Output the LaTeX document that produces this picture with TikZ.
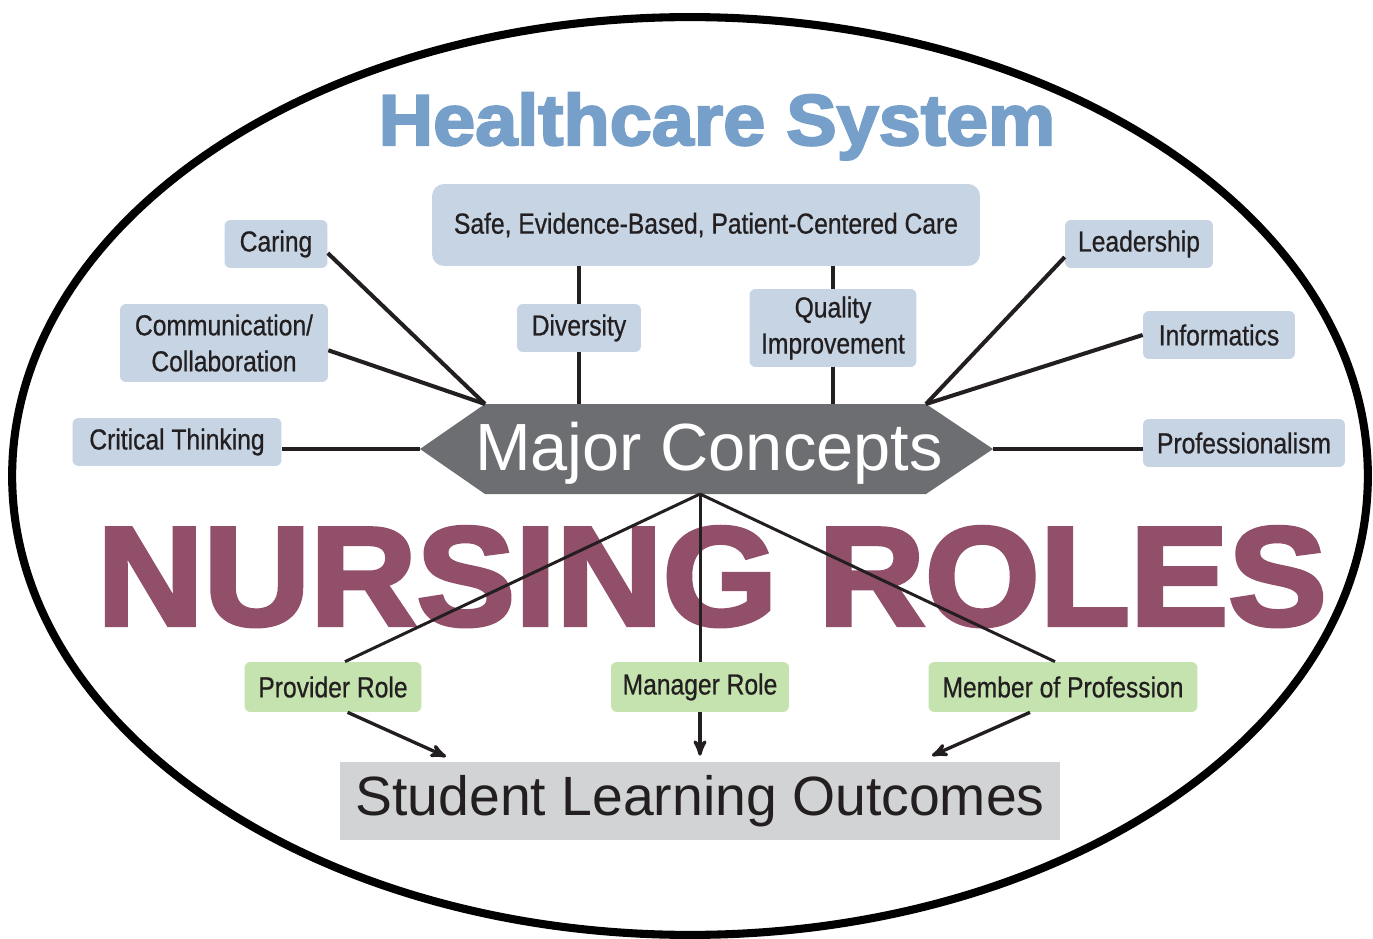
\documentclass[tikz,border=0pt]{standalone}
\usepackage{fontspec}
\setmainfont{Liberation Sans}
\newfontfamily\condfont{Liberation Sans}[FakeStretch=0.85,FakeBold=0.6]
\newfontfamily\heavyfont{Liberation Sans}[FakeStretch=1.05,FakeBold=3]
\usetikzlibrary{arrows,calc}

\definecolor{conceptblue}{HTML}{C6D4E4}
\definecolor{rolegreen}{HTML}{C4E3AE}
\definecolor{outcomegray}{HTML}{D1D3D4}
\definecolor{majorgray}{HTML}{6D6E71}
\definecolor{titleblue}{HTML}{769FC9}
\definecolor{rolesplum}{HTML}{924F6A}
\definecolor{inkdark}{HTML}{231F20}

\tikzset{
  concept/.style={fill=conceptblue, rounded corners=0.12cm, text=inkdark, inner sep=0pt,
    align=center, minimum height=0.96cm, font=\condfont\fontsize{16.5}{20.5}\selectfont},
  role/.style={concept, fill=rolegreen, minimum height=1cm},
  link/.style={draw=inkdark, line width=2.3pt},
  thinlink/.style={draw=inkdark, line width=1.7pt},
  arrowlink/.style={draw=inkdark, line width=1.9pt, -stealth'},
}

\begin{document}
\begin{tikzpicture}[x=0.02cm, y=-0.02cm]
  \useasboundingbox (0,0) rectangle (1373,939);
  \fill[white] (0,0) rectangle (1373,939);

  % outer ring
  \draw[line width=4.6pt, black] (690,476) ellipse [x radius=13.56cm, y radius=9.18cm];
  \node[font=\heavyfont\bfseries\fontsize{41}{41}\selectfont, text=titleblue, anchor=base] (title) at (717,145) {Healthcare System};

  % concept boxes
  \node[concept, minimum width=10.96cm, minimum height=1.64cm, rounded corners=0.24cm] (safe) at (706,225) {Safe, Evidence-Based, Patient-Centered Care};
  \node[concept, minimum width=2.06cm] (caring) at (276,244) {Caring};
  \node[concept, minimum width=4.16cm, minimum height=1.56cm] (comm) at (224,343) {Communication/\\Collaboration};
  \node[concept, minimum width=4.18cm] (critical) at (177,442) {Critical Thinking};
  \node[concept, minimum width=2.48cm] (diversity) at (579,328) {Diversity};
  \node[concept, minimum width=3.34cm, minimum height=1.56cm] (quality) at (833,328) {Quality\\Improvement};
  \node[concept, minimum width=2.96cm] (leader) at (1139,244) {Leadership};
  \node[concept, minimum width=3.04cm] (inform) at (1219,335) {Informatics};
  \node[concept, minimum width=4.04cm] (prof) at (1244,443) {Professionalism};

  % major concepts
  \coordinate (mcW) at (420,449);
  \coordinate (mcNW) at (485,404);
  \coordinate (mcNE) at (926,404);
  \coordinate (mcE) at (993,449);
  \coordinate (mcSE) at (926,494);
  \coordinate (mcSW) at (485,494);
  \coordinate (mcS) at (700,494);
  \fill[majorgray] (mcW) -- (mcNW) -- (mcNE) -- (mcE) -- (mcSE) -- (mcSW) -- cycle;
  \node[text=white, font=\fontsize{38}{38}\selectfont, anchor=base] (major) at (709,470) {Major Concepts};

  % roles
  \node[font=\heavyfont\bfseries\fontsize{80}{80}\selectfont, text=rolesplum, anchor=base] (roles) at (712,625) {NURSING ROLES};
  \node[role, minimum width=3.54cm] (provider) at (333,687) {Provider Role};
  \node[role, minimum width=3.56cm] (manager) at (700,687) {Manager Role};
  \node[role, minimum width=5.38cm] (member) at (1063,687) {Member of Profession};
  \node[fill=outcomegray, minimum width=14.4cm, minimum height=1.56cm, inner sep=0pt, text=inkdark,
    font=\fontsize{31.5}{31.5}\selectfont] (outcomes) at (700,801) {Student Learning Outcomes};

  % left side
  \draw[link] (caring.-10) -- (mcNW);
  \draw[link] (comm.-4) -- (mcNW);
  \draw[link] (mcW) -- (mcW -| critical.east);

  % top
  \draw[link] (diversity.north) -- (diversity.north |- safe.south);
  \draw[link] (diversity.south) -- (diversity.south |- mcNW);
  \draw[link] (quality.north) -- (quality.north |- safe.south);
  \draw[link] (quality.south) -- (quality.south |- mcNE);

  % right side
  \draw[link] (leader.190) -- (mcNE);
  \draw[link] (inform.west) -- (mcNE);
  \draw[link] (mcE) -- (mcE -| prof.west);

  % lower side
  \draw[thinlink] (mcS) -- ($(provider.north)+(12,0)$);
  \draw[thinlink] (mcS) -- (manager.north);
  \draw[thinlink] (mcS) -- ($(member.north)+(-8,0)$);
  \draw[arrowlink] (provider.-60) -- ($(outcomes.north)+(-254,-5)$);
  \draw[arrowlink] (manager.south) -- ($(outcomes.north)+(0,-6)$);
  \draw[arrowlink] ($(member.south)+(-33,0)$) -- ($(outcomes.north)+(232,-6)$);
\end{tikzpicture}
\end{document}
